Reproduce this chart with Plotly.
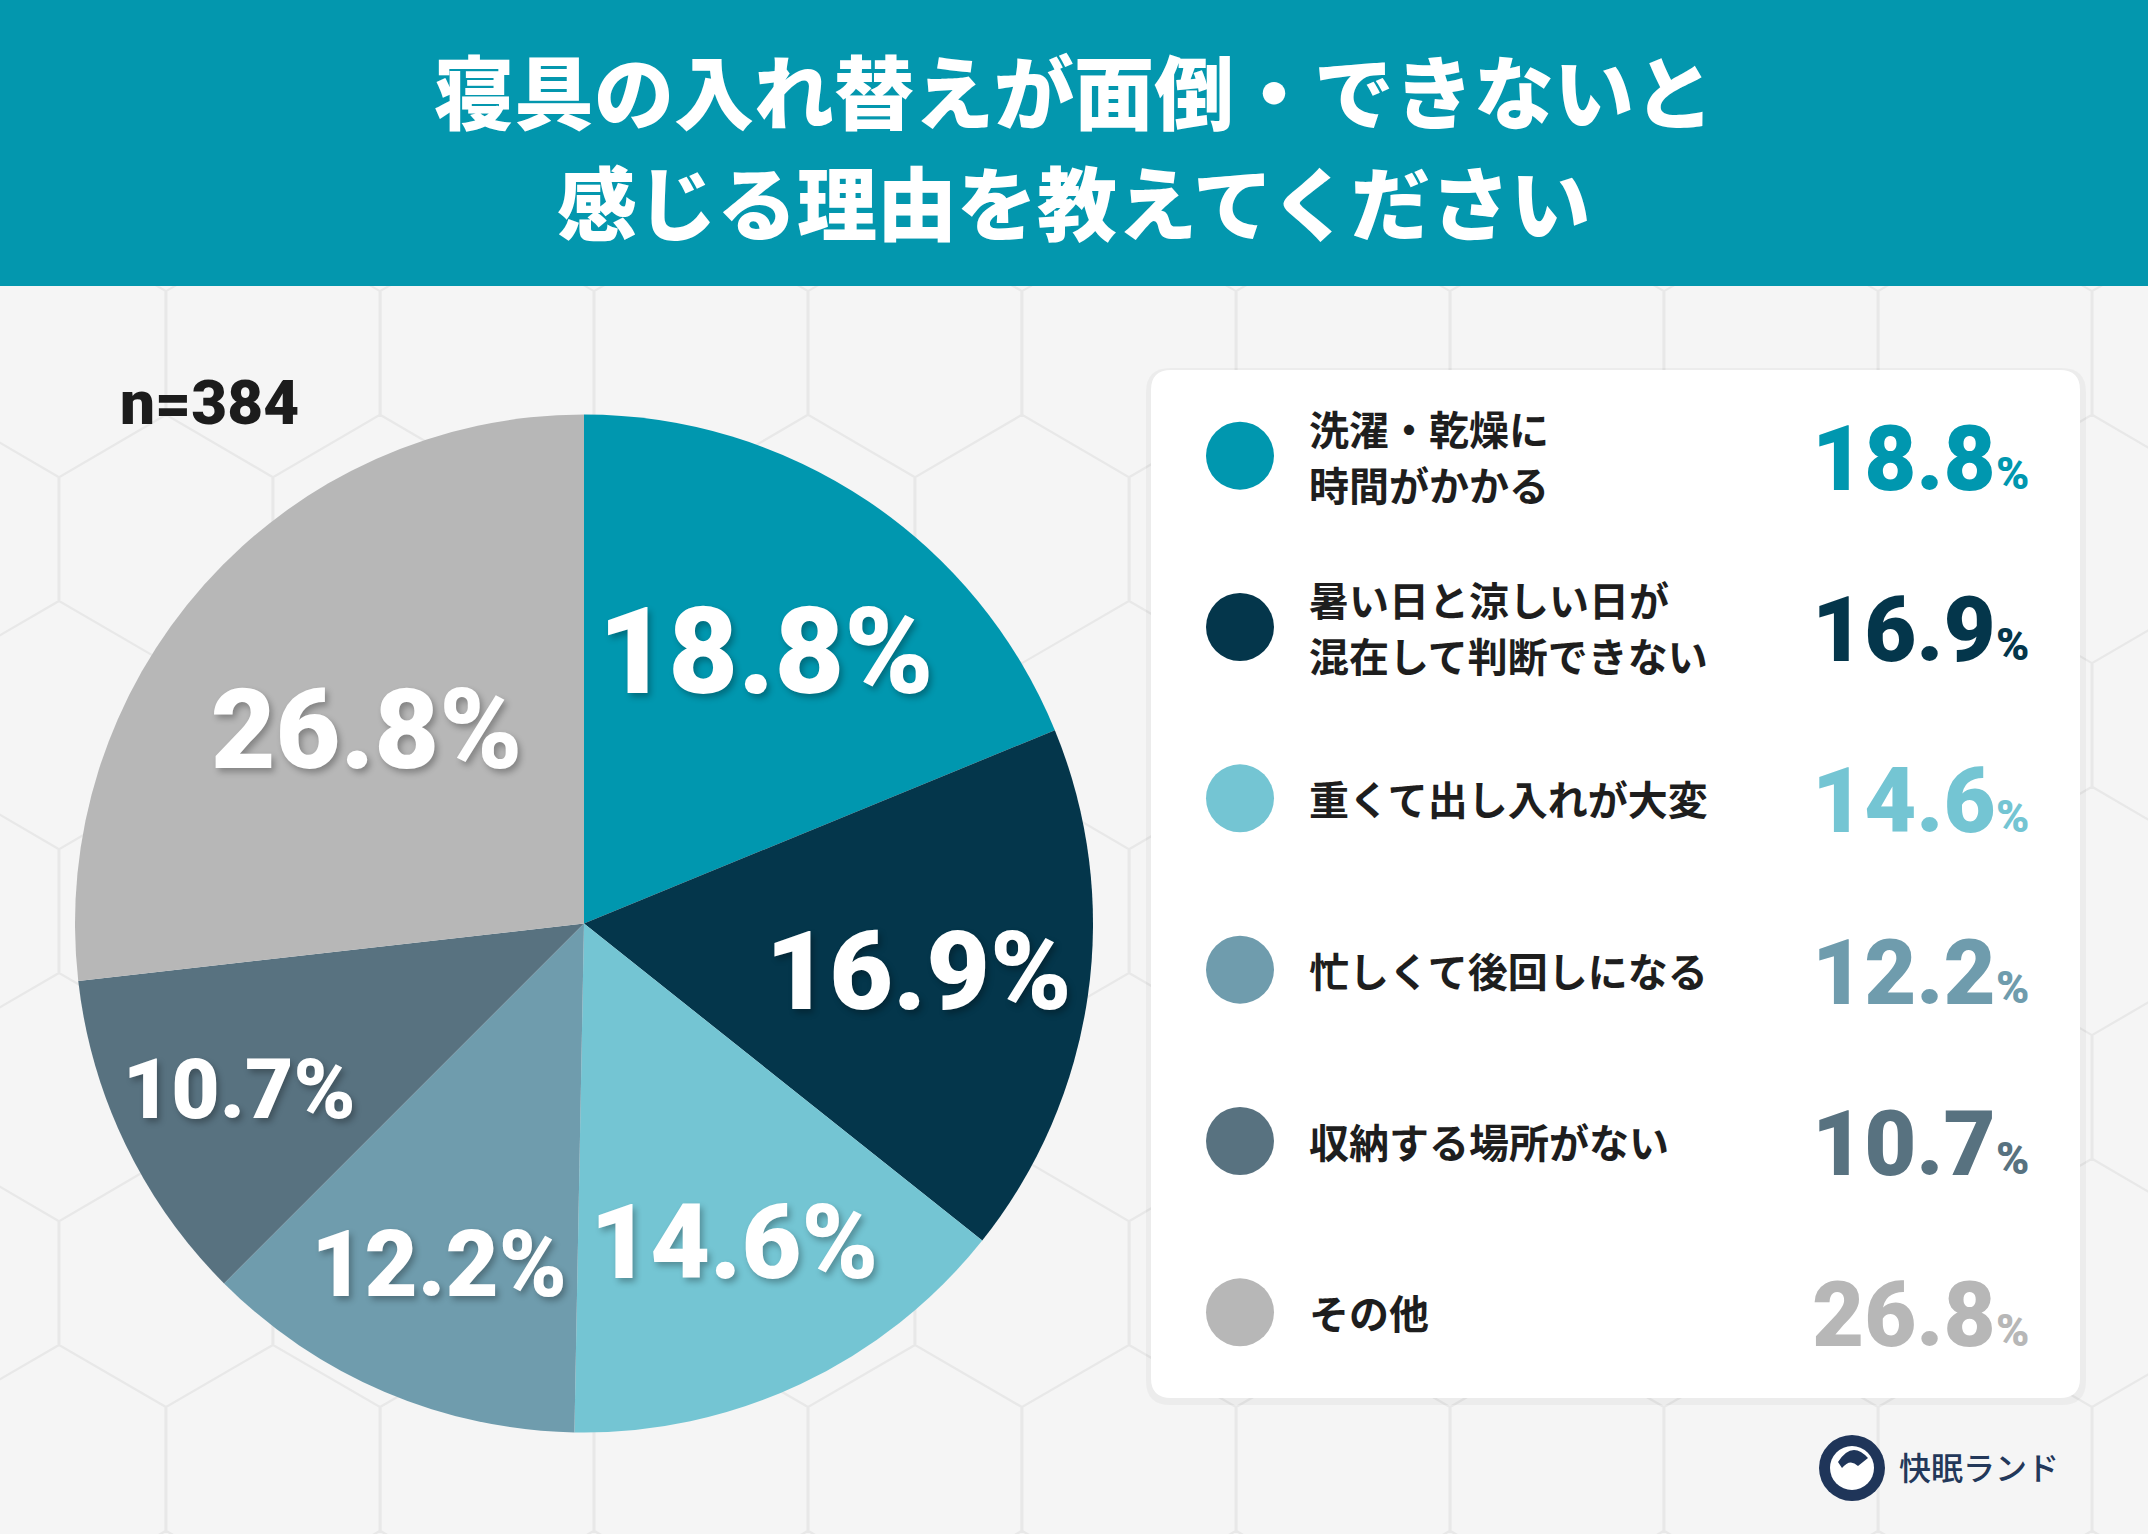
import math
import plotly.graph_objects as go

# chart content
title_lines = ["寝具の入れ替えが面倒・できないと", "感じる理由を教えてください"]
sample_note = "n=384"
categories = [
    ["洗濯・乾燥に", "時間がかかる"],
    ["暑い日と涼しい日が", "混在して判断できない"],
    ["重くて出し入れが大変"],
    ["忙しくて後回しになる"],
    ["収納する場所がない"],
    ["その他"],
]
shares = [18.8, 16.9, 14.6, 12.2, 10.7, 26.8]
colors = ["#0097af", "#04364b", "#74c5d3", "#6f9cad", "#587280", "#b7b7b7"]
brand = "快眠ランド"

W, H = 2148, 1534
JP = "Noto Sans CJK JP"
NUM = "Roboto"


def px(x):
    return x / W


def py(y):
    return 1 - y / H


def rounded_rect(x0, y0, x1, y1, r):
    return (f"M {px(x0 + r)},{py(y0)} L {px(x1 - r)},{py(y0)} "
            f"Q {px(x1)},{py(y0)} {px(x1)},{py(y0 + r)} L {px(x1)},{py(y1 - r)} "
            f"Q {px(x1)},{py(y1)} {px(x1 - r)},{py(y1)} L {px(x0 + r)},{py(y1)} "
            f"Q {px(x0)},{py(y1)} {px(x0)},{py(y1 - r)} L {px(x0)},{py(y0 + r)} "
            f"Q {px(x0)},{py(y0)} {px(x0 + r)},{py(y0)} Z")


# faint hexagon pattern for the background
hw, hs = 214, 124
hex_path = ""
for j in range(-1, 10):
    cy = -19 + j * 1.5 * hs
    for i in range(-1, 12):
        cx = -155 + i * hw + (j % 2) * hw / 2
        pts = []
        for k in range(6):
            a = math.radians(-90 + 60 * k)
            pts.append((cx + hw / 2 / math.cos(math.radians(30)) * math.cos(a) * 0.995,
                        cy + hs * math.sin(a)))
        hex_path += "M " + " L ".join(f"{px(x):.4f},{py(y):.4f}" for x, y in pts) + " Z "

fig = go.Figure()

fig.add_trace(go.Pie(
    values=shares,
    labels=["".join(c) for c in categories],
    marker=dict(colors=colors, line=dict(width=0)),
    sort=False,
    direction="clockwise",
    rotation=0,
    texttemplate="%{value:.1f}%",
    textposition="inside",
    insidetextorientation="horizontal",
    textfont=dict(family=NUM, color="white", weight=900,
                  size=[126, 110, 112, 92, 90, 112],
                  shadow="3px 4px 6px rgba(0,0,0,0.28)"),
    domain=dict(x=[px(75), px(1093)], y=[py(1433), py(414)]),
    hoverinfo="skip",
    showlegend=False,
))

# legend markers on their own axis, one row per category
rows = [i + 0.5 for i in range(len(categories))]
fig.add_trace(go.Scatter(
    x=[0.0958] * len(rows), y=rows, mode="markers",
    marker=dict(size=68, color=colors, line=dict(width=0)),
    xaxis="x2", yaxis="y2", hoverinfo="skip", showlegend=False, cliponaxis=False,
))

annotations = [
    dict(text=title_lines[0], x=0.5, y=py(88), xref="paper", yref="paper",
         xanchor="center", yanchor="middle", showarrow=False,
         font=dict(family=JP, size=80, color="white", weight=900)),
    dict(text=title_lines[1], x=0.5, y=py(199), xref="paper", yref="paper",
         xanchor="center", yanchor="middle", showarrow=False,
         font=dict(family=JP, size=80, color="white", weight=900)),
    dict(text=sample_note, x=px(118), y=py(402), xref="paper", yref="paper",
         xanchor="left", yanchor="middle", showarrow=False,
         font=dict(family=NUM, size=62, color="#1c1c1c", weight=900)),
    dict(text=brand, x=px(1897), y=py(1466), xref="paper", yref="paper",
         xanchor="left", yanchor="middle", showarrow=False,
         font=dict(family=JP, size=32, color="#23385a", weight=500)),
]
line_gap = 0.164  # half the distance between the two lines of a label, in rows
for r, cat, val, col in zip(rows, categories, shares, colors):
    offsets = [0.0] if len(cat) == 1 else [-line_gap, line_gap]
    for line, off in zip(cat, offsets):
        annotations.append(dict(
            text=line, x=0.168, y=r + off, xref="x2", yref="y2", xanchor="left",
            yanchor="middle", showarrow=False,
            font=dict(family=JP, size=40, color="#1e1e1e", weight=700)))
    annotations.append(dict(
        text=f"{val:.1f}", x=0.9115, y=r + 0.02,
        xref="x2", yref="y2", xanchor="right", yanchor="middle", showarrow=False,
        font=dict(family=NUM, size=90, color=col, weight=900)))
    annotations.append(dict(
        text="%", x=0.907, y=r + 0.105,
        xref="x2", yref="y2", xanchor="left", yanchor="middle", showarrow=False,
        font=dict(family=NUM, size=45, color=col, weight=900)))

shapes = [
    dict(type="path", path=hex_path, xref="paper", yref="paper", layer="below",
         line=dict(color="#e8e8e8", width=2)),
    dict(type="rect", x0=0, x1=1, y0=py(286), y1=1, xref="paper", yref="paper",
         layer="below", fillcolor="#0397ae", line=dict(width=0)),
    dict(type="path", path=rounded_rect(1146, 368, 2086, 1405, 24), xref="paper",
         yref="paper", layer="below", fillcolor="rgba(0,0,0,0.035)", line=dict(width=0)),
    dict(type="path", path=rounded_rect(1151, 370, 2080, 1398, 20), xref="paper",
         yref="paper", layer="below", fillcolor="white", line=dict(width=0)),
    # brand badge
    dict(type="circle", xref="paper", yref="paper", x0=px(1819), x1=px(1885),
         y0=py(1501), y1=py(1435), fillcolor="#1f3559", line=dict(width=0)),
    dict(type="circle", xref="paper", yref="paper", x0=px(1830), x1=px(1874),
         y0=py(1490), y1=py(1446), fillcolor="white", line=dict(width=0)),
    dict(type="path", xref="paper", yref="paper", fillcolor="#1f3559", line=dict(width=0),
         path=(f"M {px(1838)},{py(1462)} Q {px(1852)},{py(1440)} {px(1868)},{py(1458)} "
               f"L {px(1858)},{py(1466)} Q {px(1850)},{py(1458)} {px(1842)},{py(1468)} Z")),
]

fig.update_layout(
    width=W, height=H,
    margin=dict(l=0, r=0, t=0, b=0),
    paper_bgcolor="#f5f5f5",
    plot_bgcolor="rgba(0,0,0,0)",
    xaxis2=dict(domain=[px(1151), px(2080)], range=[0, 1], visible=False, anchor="y2"),
    yaxis2=dict(domain=[py(1398), py(370)], range=[6, 0], visible=False, anchor="x2"),
    xaxis=dict(visible=False), yaxis=dict(visible=False),
    annotations=annotations,
    shapes=shapes,
)

fig.write_html("out.html", config={"displayModeBar": False},
               post_script="document.body.style.margin='0';")
